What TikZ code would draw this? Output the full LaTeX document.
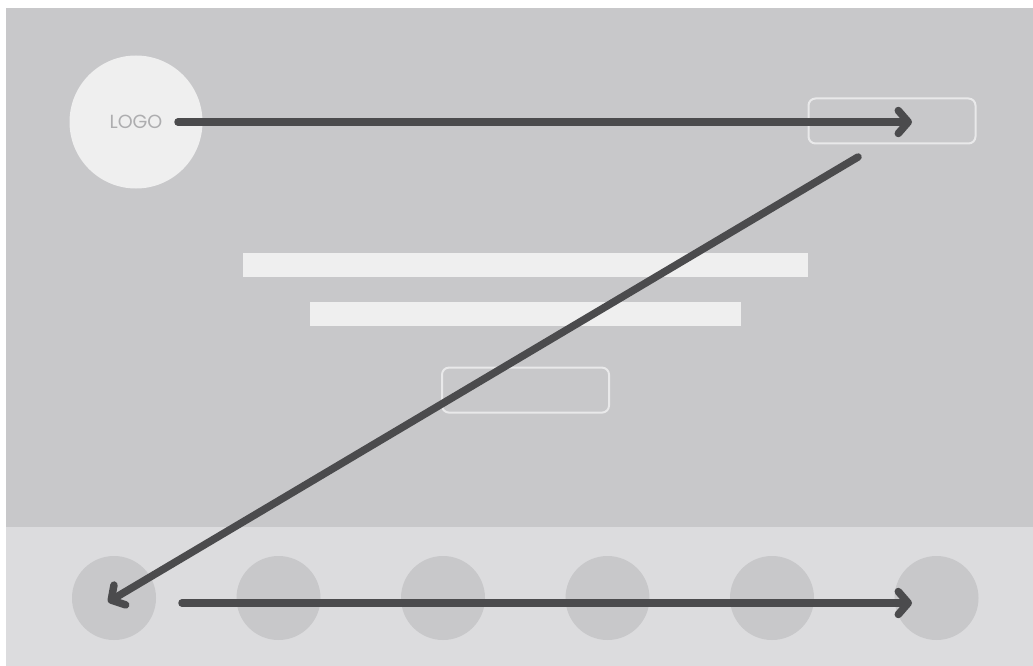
\documentclass[tikz,border=0pt]{standalone}
\usepackage{fontspec}
\setmainfont{Poppins}
\usetikzlibrary{arrows.meta, positioning}
\definecolor{herogray}{HTML}{C8C8CA}
\definecolor{footgray}{HTML}{DCDCDE}
\definecolor{barfill}{HTML}{EFEFEF}
\definecolor{dotfill}{HTML}{C8C8CA}
\definecolor{arrowgray}{HTML}{4B4B4D}
\definecolor{outline}{HTML}{E9E9EA}
\definecolor{logotext}{HTML}{ADADAF}

\begin{document}
\begin{tikzpicture}[
    x=1pt, y=-1pt,
    btn/.style={rectangle, draw=outline, line width=2pt, rounded corners=7pt, minimum width=167pt, minimum height=45pt},
    bar/.style={rectangle, fill=barfill, inner sep=0pt, minimum height=24pt},
    dot/.style={circle, fill=dotfill, inner sep=0pt, minimum size=84pt},
    arrow/.style={draw=arrowgray, line width=7.5pt, line cap=round, -{Straight Barb[length=10pt,width=23pt,line join=round,line cap=round]}}
]
    \useasboundingbox (0,0) rectangle (1033,666);

    % Page areas
    \fill[herogray] (6,8) rectangle (1033,527);
    \fill[footgray] (6,527) rectangle (1033,666);

    % Header
    \node[circle, fill=barfill, inner sep=0pt, minimum size=133pt, text=logotext, font=\fontsize{19}{19}\selectfont] (logo) at (136,122) {LOGO};
    \node[btn] (nav) at (892,121) {};

    % Hero text and button
    \node[bar, minimum width=565pt] (headline) at (525.5,265) {};
    \node[bar, minimum width=431pt, below=25pt of headline] (subline) {};
    \node[btn, below=40pt of subline] (cta) {};

    % Footer items
    \foreach \i in {0,...,5}
        \node[dot] (dot\i) at (114+164.5*\i,598) {};

    % Reading path
    \coordinate (navstart) at (178,122);
    \coordinate (navend) at (912,122);
    \coordinate (diagstart) at (858,157);
    \coordinate (diagend) at (108,602);
    \coordinate (footstart) at (182,603);
    \coordinate (footend) at (912,603);

    \draw[arrow] (navstart) -- (navend);
    \draw[arrow] (diagstart) -- (diagend);
    \draw[arrow] (footstart) -- (footend);
\end{tikzpicture}
\end{document}
